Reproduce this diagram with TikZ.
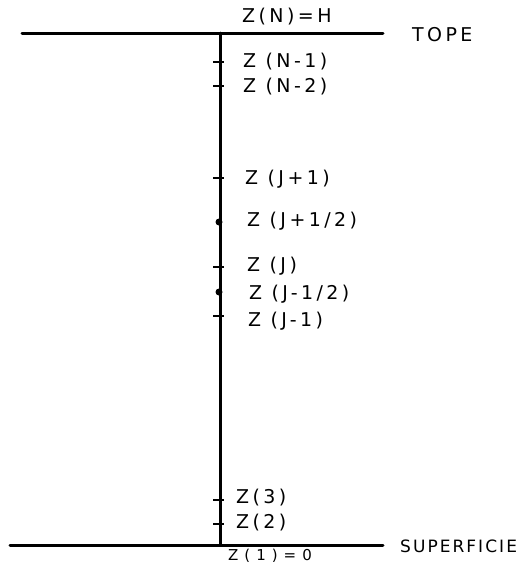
\documentclass[tikz,border=0pt]{standalone}
\usepackage{fontspec}
\setmainfont{DejaVu Sans}
\newfontfamily\handw{DejaVu Sans}[LetterSpace=18]
\newfontfamily\hands{DejaVu Sans}[LetterSpace=12]
\newfontfamily\handx{DejaVu Sans}[LetterSpace=40]
\begin{document}
\begin{tikzpicture}[x=1pt,y=-1pt,
  axis/.style={line width=3pt,line cap=round},
  tick/.style={line width=2.2pt},
  lbl/.style={anchor=west,inner sep=0pt,font=\handw\fontsize{19}{21}\selectfont},
  dot/.style={circle,fill=black,inner sep=0pt,minimum size=7pt}]
\useasboundingbox (0,0) rectangle (526,566);
% main lines
\coordinate (tl) at (22,33);
\coordinate (tr) at (383,33);
\coordinate (bl) at (10,545);
\coordinate (br) at (383,545);
\coordinate (vt) at (220,33);
\coordinate (vb) at (220,545);
\draw[axis] (tl) -- (tr);
\draw[axis] (bl) -- (br);
\draw[axis] (vt) -- (vb);
% ticks
\foreach \y/\n in {62/n1,86/n2,178/j1,267/j0,316/jm,500/z3,524/z2}{
  \coordinate (t\n) at (220,\y);
  \draw[tick] ([xshift=-7pt]t\n) -- ([xshift=4pt]t\n);
}
\node[dot] (dh) at (219,222) {};
\node[dot] (dl) at (219,292) {};
% labels
\node[lbl] (ztop) at (242,17) {Z(N)=H};
\node[lbl] (tope) at (412,35) {TOPE};
\node[lbl] (ln1) at (243,62) {Z (N-1)};
\node[lbl] (ln2) at (243,87) {Z (N-2)};
\node[lbl] (lj1) at (245,179) {Z (J+1)};
\node[lbl] (ljh) at (247,221) {Z (J+1/2)};
\node[lbl] (lj0) at (247,266) {Z (J)};
\node[lbl] (ljl) at (249,294) {Z (J-1/2)};
\node[lbl] (ljm) at (248,321) {Z (J-1)};
\node[lbl] (l3) at (236,498) {Z(3)};
\node[lbl] (l2) at (236,523) {Z(2)};
\node[lbl,font=\hands\fontsize{17}{20}\selectfont] (sup) at (400,546) {SUPERFICIE};
\node[lbl,font=\handx\fontsize{15}{16}\selectfont] (zb) at (228,556) {Z(1)=0};
\end{tikzpicture}
\end{document}
